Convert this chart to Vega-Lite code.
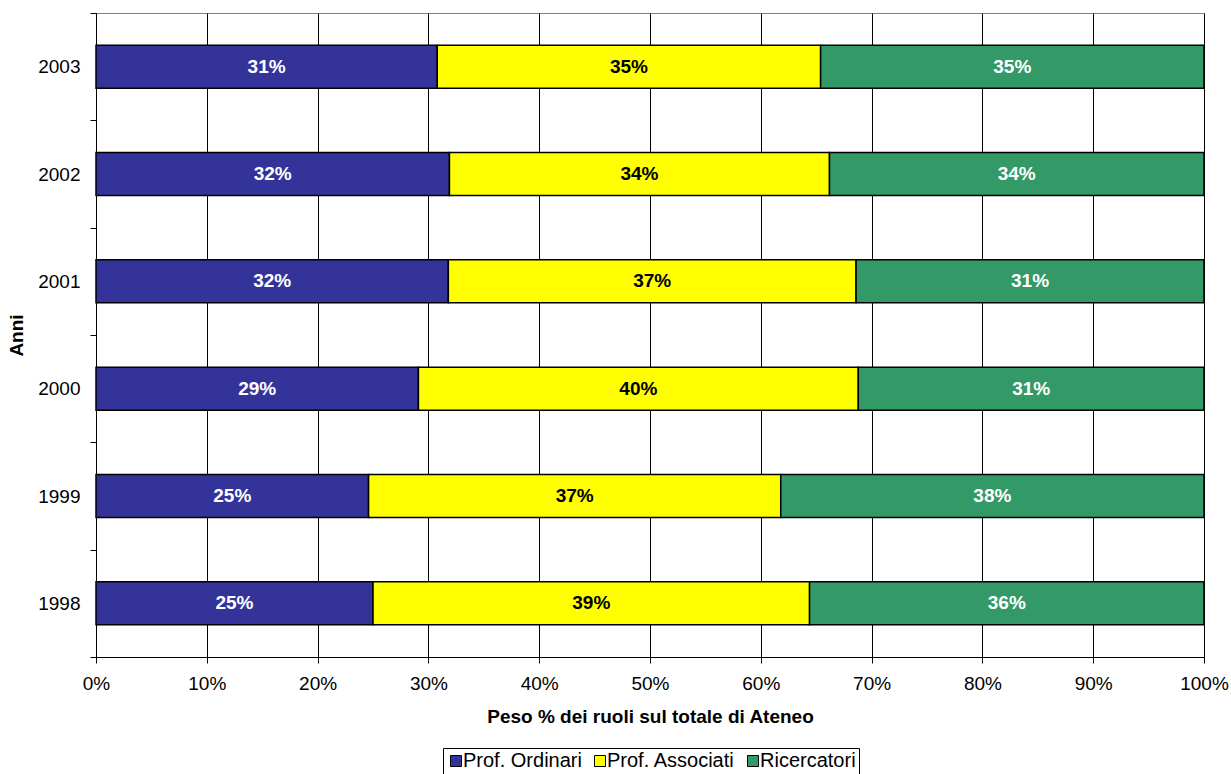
{
  "$schema": "https://vega.github.io/schema/vega-lite/v6.json",
  "width": 1108,
  "height": 644,
  "autosize": {"type": "none"},
  "padding": {"left": 96, "top": 13, "right": 27, "bottom": 117},
  "background": "white",
  "config": {
    "font": "Liberation Sans",
    "view": {"stroke": "#808080", "strokeWidth": 1},
    "axis": {
      "domainColor": "black",
      "domainWidth": 1,
      "tickColor": "black",
      "tickWidth": 1,
      "labelColor": "black",
      "labelFontSize": 19,
      "titleColor": "black",
      "titleFontSize": 19,
      "titleFontWeight": "bold"
    }
  },
  "data": {
    "values": [
      {"anno": "2003", "ruolo": "Prof. Ordinari", "ordine": 1, "quota": 0.308},
      {"anno": "2003", "ruolo": "Prof. Associati", "ordine": 2, "quota": 0.346},
      {"anno": "2003", "ruolo": "Ricercatori", "ordine": 3, "quota": 0.346},
      {"anno": "2002", "ruolo": "Prof. Ordinari", "ordine": 1, "quota": 0.319},
      {"anno": "2002", "ruolo": "Prof. Associati", "ordine": 2, "quota": 0.343},
      {"anno": "2002", "ruolo": "Ricercatori", "ordine": 3, "quota": 0.338},
      {"anno": "2001", "ruolo": "Prof. Ordinari", "ordine": 1, "quota": 0.318},
      {"anno": "2001", "ruolo": "Prof. Associati", "ordine": 2, "quota": 0.368},
      {"anno": "2001", "ruolo": "Ricercatori", "ordine": 3, "quota": 0.314},
      {"anno": "2000", "ruolo": "Prof. Ordinari", "ordine": 1, "quota": 0.291},
      {"anno": "2000", "ruolo": "Prof. Associati", "ordine": 2, "quota": 0.397},
      {"anno": "2000", "ruolo": "Ricercatori", "ordine": 3, "quota": 0.312},
      {"anno": "1999", "ruolo": "Prof. Ordinari", "ordine": 1, "quota": 0.246},
      {"anno": "1999", "ruolo": "Prof. Associati", "ordine": 2, "quota": 0.372},
      {"anno": "1999", "ruolo": "Ricercatori", "ordine": 3, "quota": 0.382},
      {"anno": "1998", "ruolo": "Prof. Ordinari", "ordine": 1, "quota": 0.25},
      {"anno": "1998", "ruolo": "Prof. Associati", "ordine": 2, "quota": 0.394},
      {"anno": "1998", "ruolo": "Ricercatori", "ordine": 3, "quota": 0.356}
    ]
  },
  "transform": [
    {
      "stack": "quota",
      "groupby": ["anno"],
      "sort": [{"field": "ordine", "order": "ascending"}],
      "as": ["q0", "q1"],
      "offset": "zero"
    },
    {"calculate": "(datum.q0 + datum.q1) / 2", "as": "qm"}
  ],
  "encoding": {
    "y": {
      "field": "anno",
      "type": "ordinal",
      "sort": "descending",
      "scale": {"paddingInner": 0, "paddingOuter": 0},
      "axis": {
        "title": "Anni",
        "tickBand": "extent",
        "tickSize": 6,
        "labelPadding": 10,
        "titlePadding": 11,
        "grid": false
      }
    }
  },
  "layer": [
    {
      "mark": {"type": "bar", "stroke": "black", "strokeWidth": 1.5, "height": {"band": 0.4}},
      "encoding": {
        "x": {
          "field": "q0",
          "type": "quantitative",
          "scale": {"domain": [0, 1], "nice": false},
          "axis": {
            "title": "Peso % dei ruoli sul totale di Ateneo",
            "format": ".0%",
            "values": [0, 0.1, 0.2, 0.3, 0.4, 0.5, 0.6, 0.7, 0.8, 0.9, 1],
            "labelFlush": false,
            "labelOverlap": false,
            "grid": true,
            "gridColor": "black",
            "gridWidth": 1,
            "gridOpacity": 1,
            "tickSize": 6,
            "labelPadding": 11,
            "titlePadding": 14
          }
        },
        "x2": {"field": "q1"},
        "color": {
          "field": "ruolo",
          "type": "nominal",
          "scale": {
            "domain": ["Prof. Ordinari", "Prof. Associati", "Ricercatori"],
            "range": ["#333399", "#ffff00", "#339966"]
          },
          "legend": {
            "title": null,
            "orient": "none",
            "legendX": 347,
            "legendY": 735,
            "direction": "horizontal",
            "strokeColor": "black",
            "padding": 3,
            "symbolType": "square",
            "symbolSize": 121,
            "symbolStrokeColor": "black",
            "symbolStrokeWidth": 1,
            "symbolOpacity": 1,
            "labelFontSize": 20,
            "labelColor": "black",
            "labelOffset": -3,
            "columnPadding": 8
          }
        }
      }
    },
    {
      "mark": {"type": "text", "fontWeight": "bold", "fontSize": 19, "baseline": "middle", "align": "center"},
      "encoding": {
        "x": {"field": "qm", "type": "quantitative"},
        "text": {"field": "quota", "format": ".0%"},
        "color": {
          "condition": {"test": "datum.ruolo === 'Prof. Associati'", "value": "black"},
          "value": "white"
        }
      }
    }
  ]
}
